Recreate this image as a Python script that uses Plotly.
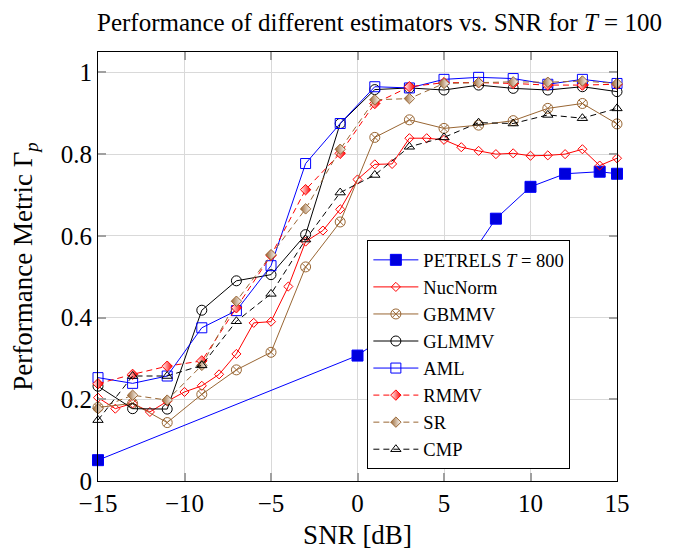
import plotly.graph_objects as go

# ---------------- data ----------------
snr_odd = [-15, -13, -11, -9, -7, -5, -3, -1, 1, 3, 5, 7, 9, 11, 13, 15]
snr_all = list(range(-15, 16))
snr_petrels = [-15, 0, 5, 8, 10, 12, 14, 15]

petrels = [0.051, 0.307, 0.455, 0.642, 0.720, 0.752, 0.757, 0.752]
nucnorm = [0.204, 0.177, 0.190, 0.169, 0.195, 0.218, 0.233, 0.261, 0.311, 0.387,
           0.390, 0.476, 0.586, 0.613, 0.665, 0.738, 0.775, 0.776, 0.839, 0.839,
           0.835, 0.817, 0.808, 0.800, 0.802, 0.796, 0.797, 0.800, 0.812, 0.772, 0.790]
gbmmv = [0.180, 0.190, 0.143, 0.212, 0.272, 0.315, 0.524, 0.634,
         0.841, 0.884, 0.863, 0.871, 0.882, 0.912, 0.924, 0.874]
glmmv = [0.232, 0.177, 0.176, 0.418, 0.490, 0.505, 0.603, 0.875,
         0.958, 0.962, 0.957, 0.969, 0.961, 0.957, 0.965, 0.953]
aml = [0.253, 0.239, 0.257, 0.375, 0.417, 0.527, 0.777, 0.875,
       0.965, 0.962, 0.983, 0.988, 0.985, 0.971, 0.983, 0.973]
rmmv = [0.238, 0.261, 0.281, 0.294, 0.424, 0.552, 0.713, 0.802,
        0.924, 0.965, 0.975, 0.975, 0.973, 0.969, 0.969, 0.971]
sr = [0.177, 0.210, 0.198, 0.283, 0.440, 0.554, 0.666, 0.812,
      0.933, 0.936, 0.973, 0.975, 0.977, 0.976, 0.979, 0.973]
cmp_ = [0.149, 0.257, 0.257, 0.283, 0.391, 0.458, 0.591, 0.706,
        0.749, 0.818, 0.841, 0.877, 0.875, 0.896, 0.888, 0.912]

x_ticks = [-15, -10, -5, 0, 5, 10, 15]
y_ticks = [0, 0.2, 0.4, 0.6, 0.8, 1]

# ---------------- style ----------------
BLUE = "#0000ff"
RED = "#ff0000"
BROWN = "#996633"
BLACK = "#000000"
FONT = "Liberation Serif"
DASH = "6px,4px"

# the page body has an 8px default margin; the figure is sized to fit the window
W, H, OFF = 667, 542, 8

fig = go.Figure()


def add(x, y, name, color, symbol, size, dash="solid", fill=None, grad=None):
    marker = dict(symbol=symbol, size=size, color=fill if fill else color,
                  line=dict(color=color, width=1))
    if grad is not None:
        marker["gradient"] = dict(type="horizontal", color=grad)
    fig.add_trace(go.Scatter(
        x=x, y=y, name=name, mode="lines+markers",
        line=dict(color=color, width=1, dash=dash),
        marker=marker, cliponaxis=False))


add(snr_petrels, petrels, "PETRELS <i>T</i> = 800", BLUE, "square", 11, fill="#0000dd")
add(snr_all, nucnorm, "NucNorm", RED, "diamond-open", 7)
add(snr_odd, gbmmv, "GBMMV", BROWN, "circle-x-open", 10)
add(snr_odd, glmmv, "GLMMV", BLACK, "circle-open", 10)
add(snr_odd, aml, "AML", BLUE, "square-open", 10)
add(snr_odd, rmmv, "RMMV", RED, "diamond", 8, dash=DASH, fill="white", grad=RED)
add(snr_odd, sr, "SR", BROWN, "diamond", 8, dash=DASH, fill=BROWN, grad="white")
add(snr_odd, cmp_, "CMP", BLACK, "triangle-up-open", 9, dash=DASH)

axis_common = dict(
    showline=True, linecolor="black", linewidth=1, mirror="ticks",
    showgrid=True, gridcolor="#d9d9d9", gridwidth=1,
    ticks="inside", ticklen=8, tickcolor="#a0a0a0", tickwidth=1.5,
    zeroline=False, automargin=False,
    tickfont=dict(family=FONT, size=25, color="black"),
)

fig.update_layout(
    width=W, height=H,
    margin=dict(l=98 - OFF, r=58, t=52 - OFF, b=H + OFF - 481.5),
    paper_bgcolor="white", plot_bgcolor="white",
    title=dict(text="Performance of different estimators vs. SNR for <i>T</i> = 100",
               font=dict(family=FONT, size=25, color="black"),
               x=(97 - OFF) / W, xanchor="left", xref="container",
               y=1 - (22 - OFF) / H, yanchor="middle", yref="container"),
    xaxis=dict(range=[-15, 15], tickvals=x_ticks,
               title=dict(text="SNR [dB]", font=dict(family=FONT, size=27, color="black"),
                          standoff=21),
               **axis_common),
    yaxis=dict(range=[0, 1.05], tickvals=y_ticks,
               title=dict(text="Performance Metric Γ<sub><i>p</i></sub>",
                          font=dict(family=FONT, size=27, color="black"), standoff=24),
               **axis_common),
    legend=dict(x=0.519, y=0.561, xanchor="left", yanchor="top",
                bgcolor="white", bordercolor="black", borderwidth=1,
                font=dict(family=FONT, size=18.5, color="black"),
                itemwidth=45, tracegroupgap=0),
    showlegend=True,
)

fig.write_html("out.html")
